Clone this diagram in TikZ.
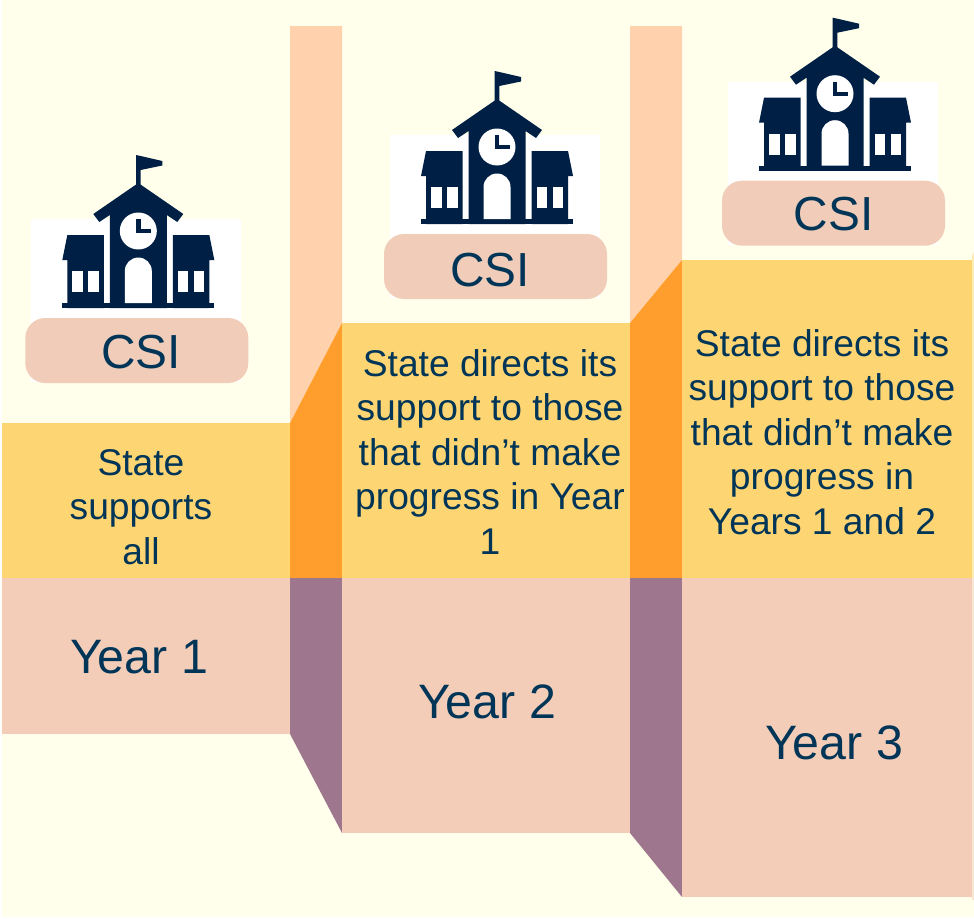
\documentclass[tikz,border=0pt]{standalone}
\usepackage{fontspec}
\setmainfont{Liberation Sans}
\definecolor{cream}{HTML}{FFFFEB}
\definecolor{bandyellow}{HTML}{FED573}
\definecolor{bandpink}{HTML}{F4CDB9}
\definecolor{pillpink}{HTML}{F0CCB9}
\definecolor{wallpeach}{HTML}{FFD2AD}
\definecolor{wallorange}{HTML}{FF9E2C}
\definecolor{wallpurple}{HTML}{9E778F}
\definecolor{inknavy}{HTML}{003557}
\definecolor{iconnavy}{HTML}{001F45}
\tikzset{
	bodytext/.style={text=inknavy, align=center, inner sep=0pt, font=\fontsize{37.2}{44.5}\selectfont},
	yeartext/.style={text=inknavy, inner sep=0pt, font=\fontsize{48.3}{50}\selectfont},
	csipill/.style={fill=pillpink, rounded corners=20pt, minimum width=223pt, minimum height=65pt, inner sep=0pt},
	csitext/.style={text=inknavy, inner sep=0pt, font=\fontsize{47.8}{50}\selectfont},
}
%#1,#2 = centre and ground line of one school, #3 = name of its pill, #4,#5 = place of its label
\newcommand{\schoolicon}[5]{
	\begin{scope}[shift={(#1,#2)}]
		\fill[white] (-107,-89) rectangle (103,74);
		\fill[iconnavy] (-2.3,-153) -- (2.3,-152) -- (24,-147) -- (24,-142.5) -- (2.3,-138) -- (2.3,-120) -- (-2.3,-120) -- cycle;
		\fill[iconnavy] (0,-125) -- (45,-94) -- (39,-86) -- (28.5,-93) -- (28.5,0) -- (-28.5,0) -- (-28.5,-93) -- (-39,-86) -- (-45,-94) -- cycle;
		\fill[iconnavy] (-76,-5) rectangle (76,0);
		%wings
		\fill[iconnavy] (34.5,-73) -- (71,-73) -- (76,-48) -- (71,-48) -- (71,0) -- (34.5,0) -- cycle;
		\fill[iconnavy] (-34.5,-73) -- (-71,-73) -- (-76,-48) -- (-71,-48) -- (-71,0) -- (-34.5,0) -- cycle;
		\fill[white] (39.5,-37) rectangle (50,-16);
		\fill[white] (55.5,-37) rectangle (66,-16);
		\fill[white] (-39.5,-37) rectangle (-50,-16);
		\fill[white] (-55.5,-37) rectangle (-66,-16);
		%clock and door
		\fill[white] (0,-77) circle (18.5pt);
		\fill[iconnavy] (-2.2,-89) rectangle (2.2,-75);
		\fill[iconnavy] (-2.2,-79) rectangle (13,-75);
		\fill[white] (-13.5,-5) -- (-13.5,-37) arc[start angle=180, end angle=0, radius=13.5pt] -- (13.5,-5) -- cycle;
		\node[csipill] (#3) at (-1.5,42.5) {};
		\node[csitext] (#3text) at (#4,#5) {CSI};
	\end{scope}
}
\begin{document}
\begin{tikzpicture}[x=1pt,y=-1pt]
	\useasboundingbox (0,0) rectangle (974,918);
	\fill[white] (0,0) rectangle (974,918);
	\fill[cream] (2,0) rectangle (974,917);
	
	%Year 1
	\fill[bandyellow] (2,423) rectangle (290,578);
	\fill[bandpink] (2,578) rectangle (290,734);
	\node[bodytext] (text1) at (141,507) {State\\supports\\all};
	\node[yeartext] (year1) at (139,657) {Year 1};
	\schoolicon{138.3}{308}{csi1}{2.7}{44.5}
	
	%Step up to Year 2
	\fill[wallpeach] (290,26) -- (342,26) -- (342,323) -- (290,423) -- cycle;
	\fill[wallorange] (290,423) -- (342,323) -- (342,578) -- (290,578) -- cycle;
	\fill[wallpurple] (290,578) -- (342,578) -- (342,833) -- (290,734) -- cycle;
	
	%Year 2
	\fill[bandyellow] (342,323) rectangle (630,578);
	\fill[bandpink] (342,578) rectangle (630,833);
	\node[bodytext] (text2) at (490,452) {State directs its\\support to those\\that didn’t make\\progress in Year\\1};
	\node[yeartext] (year2) at (487,702) {Year 2};
	\schoolicon{497}{224}{csi2}{-7}{46.5}
	
	%Step up to Year 3
	\fill[wallpeach] (630,26) -- (682,26) -- (682,260) -- (630,323) -- cycle;
	\fill[wallorange] (630,323) -- (682,260) -- (682,578) -- (630,578) -- cycle;
	\fill[wallpurple] (630,578) -- (682,578) -- (682,897) -- (630,833) -- cycle;
	
	%Year 3
	\fill[bandyellow] (682,260) rectangle (972,578);
	\fill[bandpink] (682,578) rectangle (972,897);
	\node[bodytext] (text3) at (822,432) {State directs its\\support to those\\that didn’t make\\progress in\\Years 1 and 2};
	\node[yeartext] (year3) at (834,743) {Year 3};
	\schoolicon{835}{170.7}{csi3}{-1.5}{43.5}
	
	%Cut off edge of the next step
	\fill[bandyellow!45!cream] (972,256) -- (974,252) -- (974,578) -- (972,578) -- cycle;
	\fill[bandpink!50!cream] (972,578) rectangle (974,900);
\end{tikzpicture}
\end{document}
